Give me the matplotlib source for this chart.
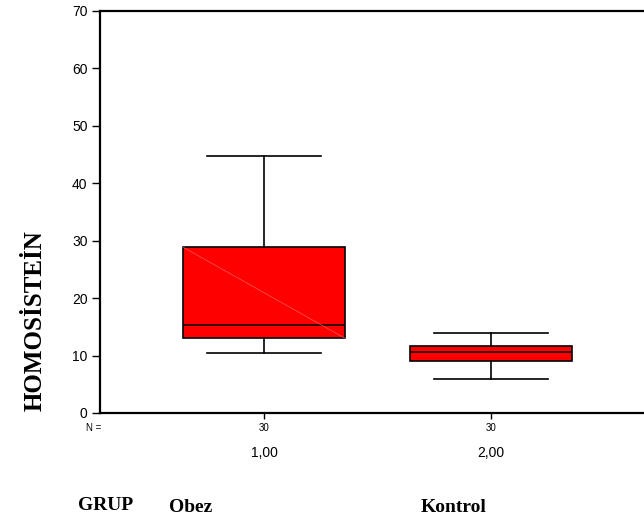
import matplotlib
matplotlib.use("Agg")
import matplotlib.pyplot as plt
from matplotlib.transforms import blended_transform_factory

# Data
groups = ["1,00", "2,00"]
group_names = ["Obez", "Kontrol"]
n_counts = [30, 30]
whislo = [10.4, 5.9]
q1 = [13.0, 9.1]
med = [15.3, 10.6]
q3 = [28.9, 11.6]
whishi = [44.8, 13.9]
yticks = [0, 10, 20, 30, 40, 50, 60, 70]

fig = plt.figure(figsize=(6.44, 5.2), dpi=100)
ax = fig.add_axes([100/644, 1-413/520, 1-100/644, (413-11)/520])

stats = []
for i in range(len(groups)):
    stats.append(dict(med=med[i], q1=q1[i], q3=q3[i], whislo=whislo[i],
                      whishi=whishi[i], fliers=[], label=groups[i]))
positions = list(range(1, len(groups) + 1))
ax.bxp(stats, positions=positions, widths=0.715, patch_artist=True,
       showfliers=False,
       boxprops=dict(facecolor="#ff0000", edgecolor="black", linewidth=1.2),
       medianprops=dict(color="black", linewidth=1.1),
       whiskerprops=dict(color="black", linewidth=1.2),
       capprops=dict(color="black", linewidth=1.2),
       capwidths=0.5)

# faint rendering streak on first box
ax.plot([1 - 0.3575, 1 + 0.3575], [q3[0], q1[0]], color="#ff8080",
        linewidth=0.5, alpha=0.7, zorder=3)

ax.set_xlim(1 - 164/227, 2 + 153/227)
ax.set_ylim(0, 70)
ax.set_yticks(yticks)
ax.set_yticklabels([str(v) for v in yticks], fontsize=10,
                   family="Liberation Sans")
ax.set_xticks(positions)
ax.set_xticklabels(groups, fontsize=10, family="Liberation Sans")
ax.tick_params(axis="x", length=4, width=1, pad=20)
ax.tick_params(axis="y", length=6, width=1, pad=3)

for s in ["left", "bottom", "top"]:
    ax.spines[s].set_linewidth(1.6)
ax.spines["right"].set_visible(False)

# N = row
tr = blended_transform_factory(ax.transData, ax.transAxes)
fig.text(86/644, 1-428/520, "N =", fontsize=7,
         family="Liberation Sans", ha="left", va="center")
for p, n in zip(positions, n_counts):
    ax.text(p, -0.037, str(n), transform=tr, fontsize=7,
            family="Liberation Sans", ha="center", va="center")

# Y label
fig.text(35/644, 1-321/520, "HOMOSİSTEİN", rotation=90, fontsize=18,
         fontweight="bold", family="Liberation Serif", ha="center", va="center")

# Bottom labels
fig.text(106/644, 1-505/520, "GRUP", fontsize=14, fontweight="bold",
         family="Liberation Serif", ha="center", va="center")
for p, name in zip(positions, group_names):
    xf = ax.transData.transform((p, 0))[0] / fig.bbox.width
    fig.text(xf - (73 if p == 1 else 37)/644, 1-507/520, name, fontsize=14,
             fontweight="bold", family="Liberation Serif", ha="center", va="center")

fig.savefig("out.png", dpi=100)
